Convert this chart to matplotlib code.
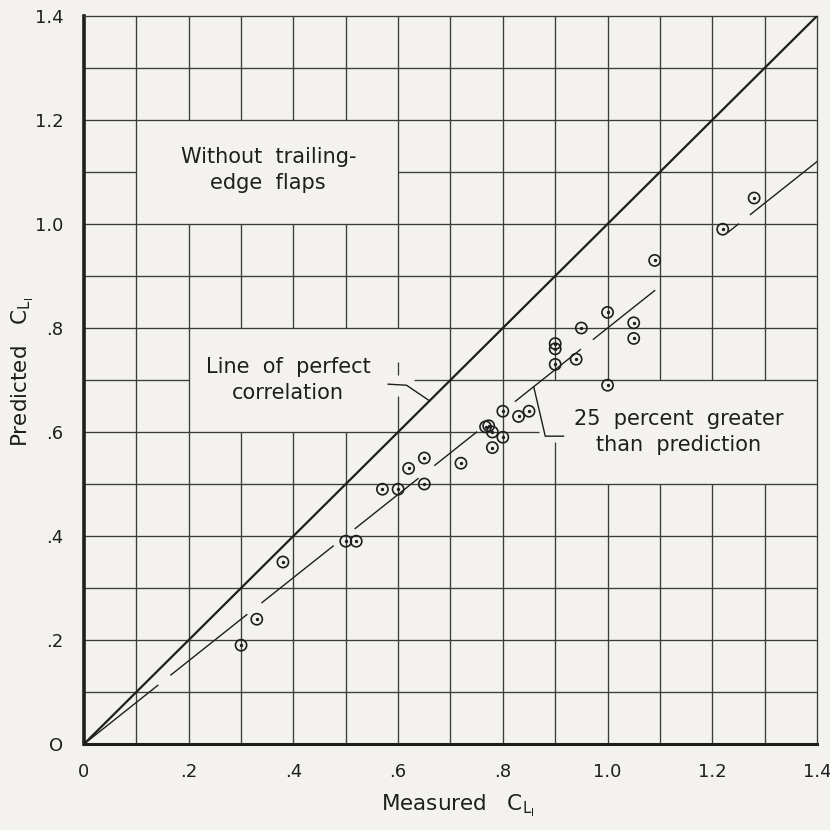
import numpy as np
import matplotlib.pyplot as plt

# measured and predicted lift coefficient
measured = [0.30, 0.33, 0.38, 0.50, 0.52, 0.57, 0.60, 0.65, 0.62, 0.65,
            0.72, 0.767, 0.773, 0.78, 0.78, 0.80, 0.80, 0.83, 0.85, 0.90,
            0.90, 0.90, 0.94, 0.95, 1.00, 1.00, 1.05, 1.05, 1.09, 1.22, 1.28]
predicted = [0.19, 0.24, 0.35, 0.39, 0.39, 0.49, 0.49, 0.50, 0.53, 0.55,
             0.54, 0.61, 0.612, 0.60, 0.57, 0.59, 0.64, 0.63, 0.64, 0.77,
             0.76, 0.73, 0.74, 0.80, 0.83, 0.69, 0.81, 0.78, 0.93, 0.99, 1.05]

# 25 percent line: predicted = measured / 1.25, drawn in broken pieces
ratio_25 = 1 / 1.25
dash_pieces = [(0.0, 0.141), (0.166, 0.311), (0.34, 0.476), (0.518, 0.638),
               (0.67, 0.75), (0.824, 0.948), (0.973, 1.09), (1.23, 1.25),
               (1.273, 1.4)]

ticks = [0, 0.2, 0.4, 0.6, 0.8, 1.0, 1.2, 1.4]
xtick_labels = ['0', '.2', '.4', '.6', '.8', '1.0', '1.2', '1.4']
ytick_labels = ['O', '.2', '.4', '.6', '.8', '1.0', '1.2', '1.4']

# grid breaks where the notes sit: (position, start, end)
v_gaps = [(0.2, 1.0, 1.2), (0.3, 1.0, 1.2), (0.4, 1.0, 1.2), (0.5, 1.0, 1.2),
          (0.3, 0.6, 0.8), (0.4, 0.6, 0.8), (0.5, 0.6, 0.8),
          (0.6, 0.67, 0.71), (0.6, 0.735, 0.8),
          (0.9, 0.58, 0.7),
          (1.0, 0.5, 0.7), (1.1, 0.5, 0.7), (1.2, 0.5, 0.7), (1.3, 0.5, 0.7)]
h_gaps = [(1.1, 0.1, 0.6), (0.7, 0.2, 0.63), (0.6, 0.87, 1.4)]

leader_perfect = ([0.581, 0.616, 0.66], [0.692, 0.690, 0.66])
leader_25 = ([0.859, 0.881, 0.916], [0.687, 0.592, 0.592])

paper = '#f3f2ee'
ink = '#1e1e1e'
grid_ink = '#3c3c3c'

plt.rcParams['font.family'] = ['DejaVu Sans']
plt.rcParams['mathtext.fontset'] = 'dejavusans'

fig = plt.figure(figsize=(8.3, 8.3), dpi=100, facecolor=paper)
ax = fig.add_axes([0.1012, 0.1036, 0.8831, 0.8771])
ax.set_facecolor(paper)
ax.set_xlim(0, 1.4)
ax.set_ylim(0, 1.4)


def pieces(pos, gaps):
    # split 0..1.4 into the pieces left after removing the gaps on this line
    cuts = sorted((a, b) for p, a, b in gaps if abs(p - pos) < 1e-6)
    out, start = [], 0.0
    for a, b in cuts:
        if a > start:
            out.append((start, a))
        start = max(start, b)
    if start < 1.4:
        out.append((start, 1.4))
    return out


grid_pos = np.round(np.arange(1, 14) * 0.1, 2)
for g in grid_pos:
    for a, b in pieces(g, v_gaps):
        ax.plot([g, g], [a, b], color=grid_ink, lw=0.95, solid_capstyle='butt', zorder=1)
    for a, b in pieces(g, h_gaps):
        ax.plot([a, b], [g, g], color=grid_ink, lw=0.95, solid_capstyle='butt', zorder=1)

# line of perfect correlation
ax.plot([0, 1.4], [0, 1.4], color=ink, lw=1.6, zorder=3)

# 25 percent greater than prediction
for a, b in dash_pieces:
    ax.plot([a, b], [a * ratio_25, b * ratio_25], color=ink, lw=1.0, zorder=3)

ax.plot(*leader_perfect, color=ink, lw=1.0, zorder=3)
ax.plot(*leader_25, color=ink, lw=1.0, zorder=3)

ax.scatter(measured, predicted, s=65, facecolors='none', edgecolors=ink,
           linewidths=1.2, zorder=4)
ax.scatter(measured, predicted, s=2, color=ink, zorder=5)

note_kw = dict(ha='center', va='center', fontsize=15, color=ink, linespacing=1.35)
ax.text(0.352, 1.104, 'Without  trailing-\nedge  flaps', **note_kw)
ax.text(0.39, 0.70, 'Line  of  perfect\ncorrelation', **note_kw)
ax.text(1.136, 0.60, '25  percent  greater\nthan  prediction', **note_kw)

ax.set_xticks(ticks)
ax.set_yticks(ticks)
ax.set_xticklabels(xtick_labels)
ax.set_yticklabels(ytick_labels)
ax.tick_params(length=0, labelsize=13, colors=ink)
ax.tick_params(axis='x', pad=14)
ax.tick_params(axis='y', pad=15)

for side in ['top', 'right']:
    ax.spines[side].set_linewidth(0.95)
    ax.spines[side].set_color(grid_ink)
ax.spines['left'].set_linewidth(2.6)
ax.spines['bottom'].set_linewidth(2.2)
ax.spines['left'].set_color(ink)
ax.spines['bottom'].set_color(ink)

ax.text(0.51, -0.092, r'Measured   $\mathregular{C_{L_l}}$', transform=ax.transAxes,
        ha='center', va='baseline', fontsize=15.5, color=ink)
ax.text(-0.0764, 0.511, r'Predicted   $\mathregular{C_{L_l}}$', transform=ax.transAxes,
        ha='center', va='baseline', rotation=90, rotation_mode='anchor',
        fontsize=15.5, color=ink)

fig.savefig('out.png', dpi=100, facecolor=paper)
